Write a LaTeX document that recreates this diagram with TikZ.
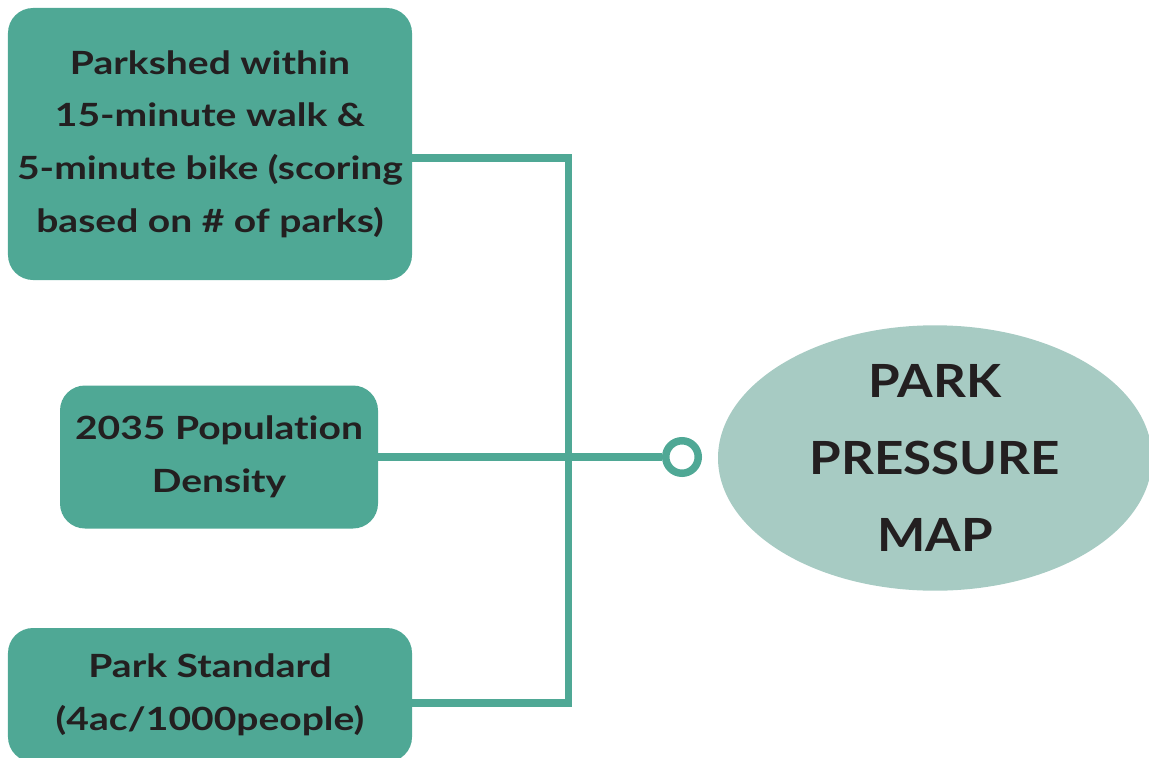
\documentclass[tikz,border=0pt]{standalone}
\usepackage{fontspec}
\setmainfont{Lato}[Ligatures=CommonOff]
\newfontfamily\boxfont{Lato}[Ligatures=CommonOff,FakeStretch=1.22]
\newfontfamily\mapfont{Lato}[Ligatures=CommonOff,FakeStretch=1.12]
\usetikzlibrary{positioning,shapes.geometric}
\definecolor{teal}{HTML}{4FA895}
\definecolor{sage}{HTML}{A7CBC3}
\definecolor{ink}{HTML}{231F20}
\begin{document}
\begin{tikzpicture}[
  box/.style={fill=teal,rounded corners=0.5cm,align=center,text=ink,inner sep=0pt,
    font=\boxfont\fontsize{18.2}{30}\selectfont\bfseries},
  goal/.style={ellipse,fill=sage,align=center,text=ink,inner sep=0pt,
    minimum width=8.68cm,minimum height=5.08cm,font=\mapfont\fontsize{26}{44}\selectfont\bfseries},
  link/.style={draw=teal,line width=0.15cm,line join=miter},
  ring/.style={circle,draw=teal,fill=white,line width=0.15cm,minimum size=0.65cm,inner sep=0pt}]
  \useasboundingbox (0,0) rectangle (22.98,15.14);
  % inputs
  \node[box,minimum width=8.08cm,minimum height=5.44cm] (shed) at (4.20,12.26)
    {Parkshed within\\15-minute walk \&\\5-minute bike (scoring\\based on \# of parks)};
  \node[box,minimum width=6.36cm,minimum height=2.86cm] (dens) at (4.38,6.0)
    {2035 Population\\Density};
  \node[box,minimum width=8.08cm,minimum height=2.68cm] (std) at (4.20,1.24)
    {Park Standard\\(4ac/1000people)};
  % output
  \node[goal] (map) at (18.70,5.98) {PARK\\PRESSURE\\MAP};
  \node[ring] (end) at (13.64,6.0) {};
  % connectors
  \draw[link] ([yshift=-0.28cm]shed.east) -- ++(3.12,0) |- ([yshift=-0.16cm]std.east);
  \draw[link] (dens.east) -- (end.west);
\end{tikzpicture}
\end{document}
